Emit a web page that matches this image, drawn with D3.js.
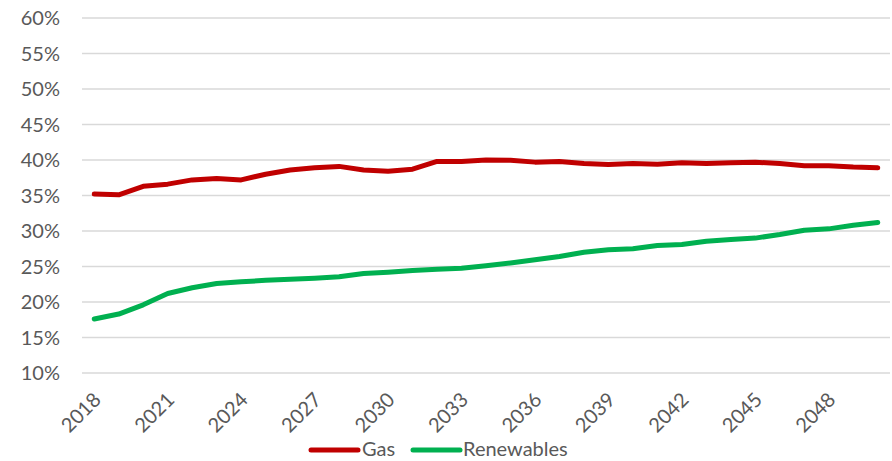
<!DOCTYPE html>
<html><head><meta charset="utf-8">
<script src="https://cdn.jsdelivr.net/npm/d3@7"></script>
<style>body{margin:0;background:#fff}svg{display:block}</style>
</head><body>
<svg id="c" width="892" height="461"></svg>
<script>
const years = d3.range(2018, 2051);
const gas = [35.2,35.1,36.3,36.6,37.2,37.4,37.2,38.0,38.6,38.9,39.1,38.6,38.4,38.7,39.8,39.8,40.0,39.95,39.7,39.8,39.5,39.35,39.5,39.4,39.6,39.5,39.6,39.7,39.5,39.2,39.2,39.0,38.9];
const renewables = [17.6,18.3,19.6,21.2,22.0,22.6,22.85,23.05,23.2,23.35,23.55,24.0,24.2,24.45,24.6,24.75,25.1,25.5,25.95,26.4,27.0,27.35,27.5,27.95,28.1,28.55,28.8,29.0,29.5,30.1,30.3,30.8,31.2];
const yTicks = [10,15,20,25,30,35,40,45,50,55,60];
const xTickYears = [2018,2021,2024,2027,2030,2033,2036,2039,2042,2045,2048];
const series = [{name:"Gas", values:gas, color:"#C00000"},{name:"Renewables", values:renewables, color:"#00B050"}];

const svg = d3.select("#c");
const font = "Lato, 'Open Sans', sans-serif";
const L = 82, R = 890, T = 18, B = 373;
const x = d3.scaleBand().domain(years).range([L, R]);
const y = d3.scaleLinear().domain([10, 60]).range([B, T]);

// gridlines
svg.append("g").selectAll("line").data(yTicks).join("line")
  .attr("x1", L).attr("x2", R).attr("y1", d => y(d)).attr("y2", d => y(d))
  .attr("stroke", "#d9d9d9").attr("stroke-width", 1.5);

// y labels
svg.append("g").selectAll("text").data(yTicks).join("text")
  .attr("x", 60).attr("y", d => y(d)).attr("dy", "0.36em")
  .attr("text-anchor", "end").attr("font-family", font).attr("font-size", 20).attr("fill", "#595959")
  .text(d => d + "%");

// x labels
svg.append("g").selectAll("text").data(xTickYears).join("text")
  .attr("transform", d => `translate(${x(d) + x.bandwidth()/2 + 8},${B + 28}) rotate(-45)`)
  .attr("text-anchor", "end").attr("font-family", font).attr("font-size", 20).attr("fill", "#595959")
  .text(d => d);

// lines
const line = d3.line().x((d,i) => x(years[i]) + x.bandwidth()/2).y(d => y(d));
svg.append("g").selectAll("path").data(series).join("path")
  .attr("d", s => line(s.values)).attr("fill", "none").attr("stroke", s => s.color)
  .attr("stroke-width", 5).attr("stroke-linejoin", "round").attr("stroke-linecap", "round");

// legend
const lg = svg.append("g");
const legendPos = [{x1:311, x2:358, tx:362},{x1:413, x2:460, tx:463}];
series.forEach((s, i) => {
  const p = legendPos[i];
  lg.append("line").attr("x1", p.x1).attr("x2", p.x2).attr("y1", 450).attr("y2", 450)
    .attr("stroke", s.color).attr("stroke-width", 5).attr("stroke-linecap", "round");
  lg.append("text").attr("x", p.tx).attr("y", 449).attr("dy", "0.36em")
    .attr("font-family", font).attr("font-size", 20).attr("fill", "#595959").text(s.name);
});
</script>
</body></html>
